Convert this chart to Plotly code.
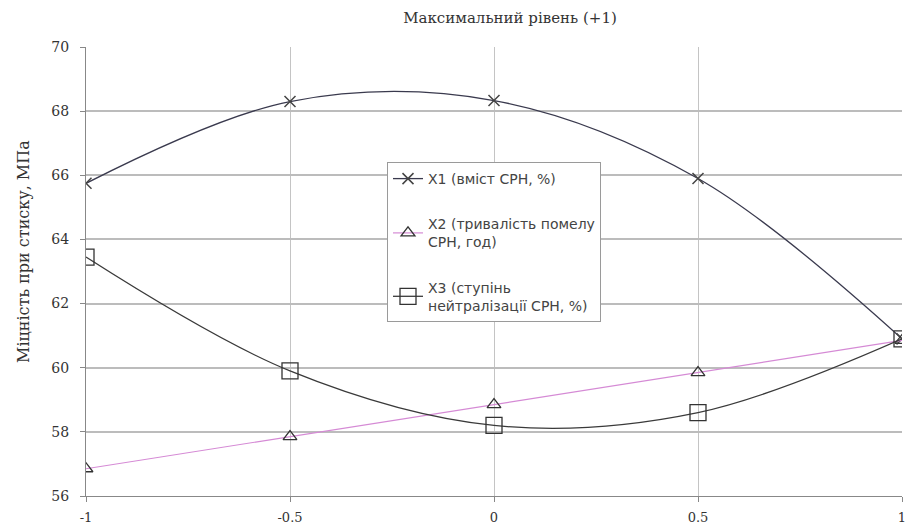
import plotly.graph_objects as go

# Factor level (coded) and compressive strength, MPa
levels = [-1, -0.5, 0, 0.5, 1]
x1_content = [65.75, 68.3, 68.33, 65.9, 60.9]
x2_milling = [56.85, 57.85, 58.85, 59.85, 60.85]
x3_neutral = [63.45, 59.9, 58.2, 58.6, 60.9]

names = [
    "X1 (вміст СРН, %)",
    "X2 (тривалість помелу<br>СРН, год)",
    "X3 (ступінь<br>нейтралізації СРН, %)",
]

y_ticks = [56, 58, 60, 62, 64, 66, 68, 70]
x_ticks = [-1, -0.5, 0, 0.5, 1]
x_tick_text = ["-1", "-0.5", "0", "0.5", "1"]

W, H = 906, 529
L, R, T, B = 86, 4, 47, 33

fig = go.Figure()

fig.add_trace(go.Scatter(
    x=levels, y=x1_content, name=names[0], legendgroup="a",
    mode="lines+markers",
    line=dict(color="#3a3a4e", width=1.3, shape="spline", smoothing=1.0),
    marker=dict(symbol="x-thin-open", size=11, color="#444444",
                line=dict(color="#444444", width=1.5)),
))
fig.add_trace(go.Scatter(
    x=levels, y=x2_milling, name=names[1], legendgroup="b",
    mode="lines+markers",
    line=dict(color="#d58ad5", width=1.2),
    marker=dict(symbol="triangle-up-open", size=12, color="#333333",
                line=dict(color="#333333", width=1.3)),
))
fig.add_trace(go.Scatter(
    x=levels, y=x3_neutral, name=names[2], legendgroup="c",
    mode="lines+markers",
    line=dict(color="#3a3a3a", width=1.3, shape="spline", smoothing=1.0),
    marker=dict(symbol="square-open", size=16, color="#333333",
                line=dict(color="#333333", width=1.3)),
))

serif = "DejaVu Serif, serif"
plot_w = W - L - R
plot_h = H - T - B

fig.update_layout(
    width=W, height=H,
    margin=dict(l=L, r=R, t=T, b=B, autoexpand=False),
    paper_bgcolor="white", plot_bgcolor="white",
    font=dict(family=serif, size=14, color="#333333"),
    title=dict(text="Максимальний рівень (+1)", x=510 / W, xanchor="center",
               y=1 - 18 / H, yanchor="middle",
               font=dict(family=serif, size=15, color="#333333")),
    legend=dict(
        x=(387 - L) / plot_w, y=(H - B - 162) / plot_h, xanchor="left", yanchor="top",
        bgcolor="white", bordercolor="#9a9a9a", borderwidth=1,
        font=dict(family="DejaVu Sans, sans-serif", size=14, color="#444444"),
        tracegroupgap=24, itemwidth=30,
    ),
    showlegend=True,
    annotations=[dict(
        text="Міцність при стиску, МПа", textangle=-90,
        xref="paper", yref="paper",
        x=(23 - L) / plot_w, y=(H - B - 252) / plot_h,
        xanchor="center", yanchor="middle", showarrow=False,
        font=dict(family=serif, size=16, color="#333333"),
    )],
)

fig.update_xaxes(
    range=[-1, 1], tickvals=x_ticks, ticktext=x_tick_text,
    showgrid=True, gridcolor="#c4c4c4", gridwidth=1.3,
    showline=True, linecolor="#888888", linewidth=1,
    ticks="outside", ticklen=5, tickcolor="#888888",
    ticklabelstandoff=4, ticklabeloverflow="allow", automargin=False,
    zeroline=False, tickfont=dict(family=serif, size=13, color="#333333"),
)
fig.update_yaxes(
    range=[56, 70], tickvals=y_ticks,
    showgrid=True, gridcolor="#bcbcbc", gridwidth=1.6,
    showline=True, linecolor="#888888", linewidth=1,
    ticks="outside", ticklen=5, tickcolor="#888888",
    ticklabelstandoff=8, automargin=False,
    zeroline=False, tickfont=dict(family=serif, size=14, color="#333333"),
)

fig.write_html("out.html")
